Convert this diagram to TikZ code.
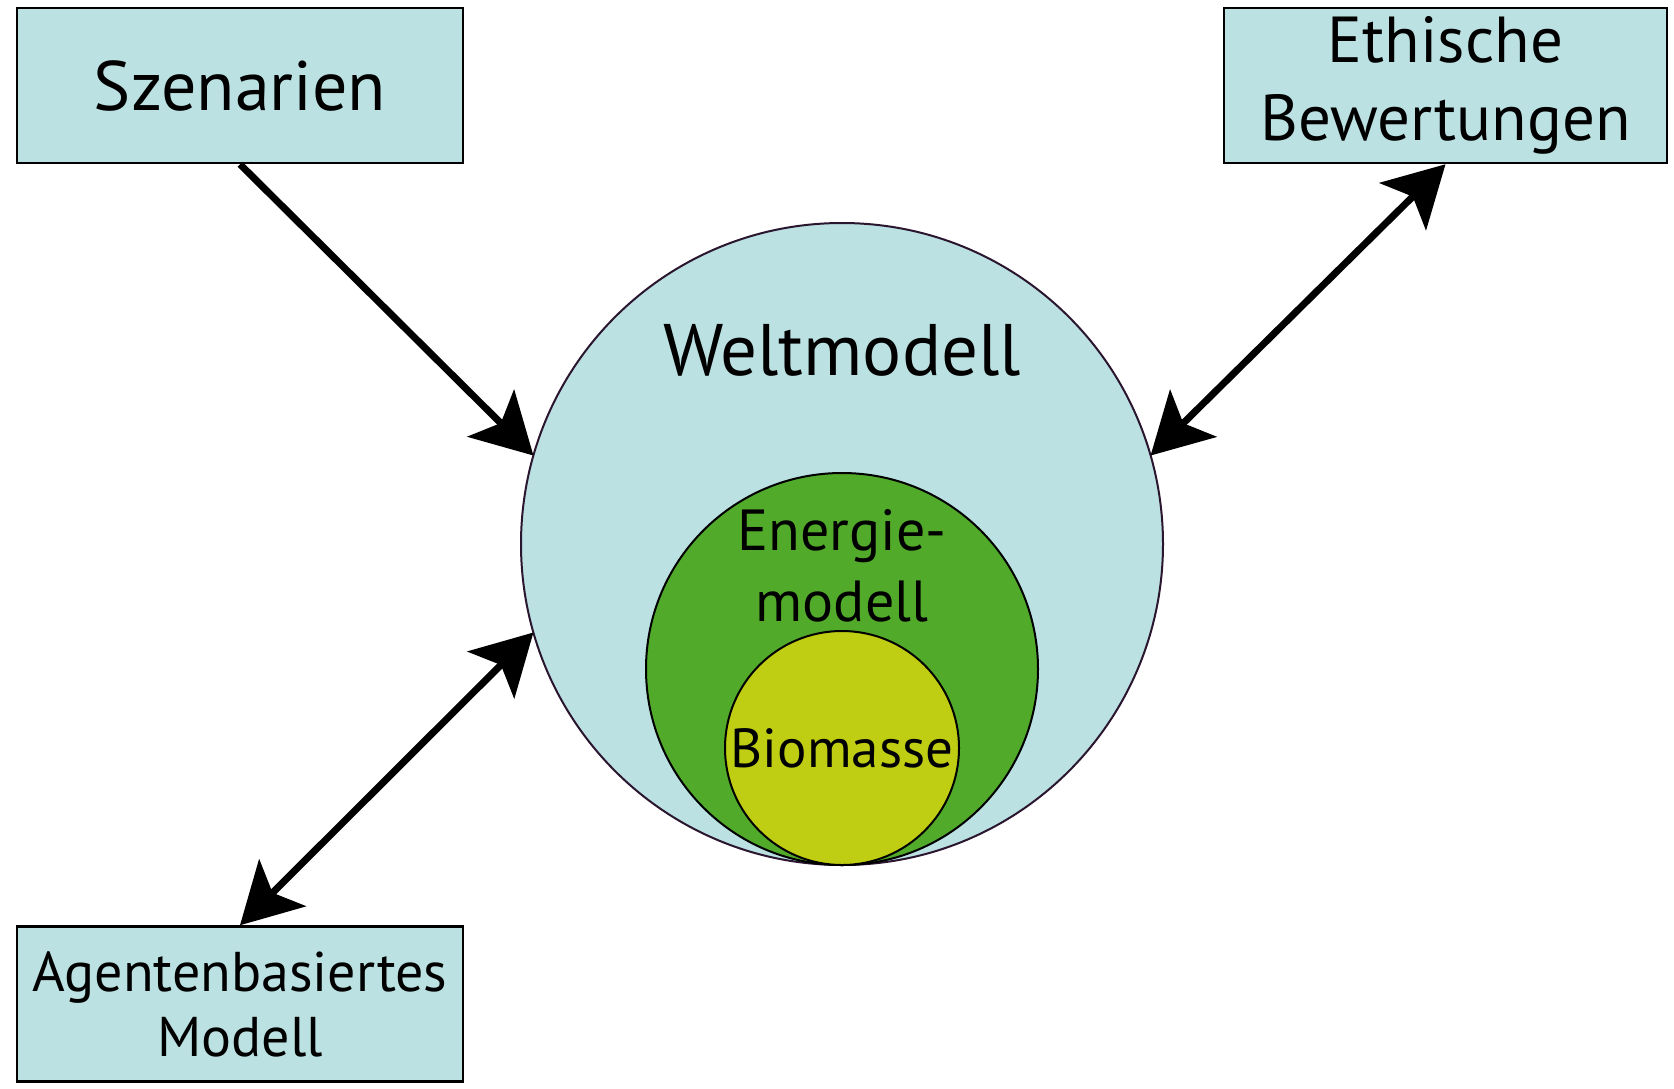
\documentclass[tikz,border=0pt]{standalone}
\usepackage{fontspec}
\setmainfont{PT Sans}
\usetikzlibrary{arrows.meta,positioning}
\definecolor{boxblue}{HTML}{BBE1E2}
\definecolor{energiegreen}{HTML}{52AA2A}
\definecolor{biogelb}{HTML}{BFCE12}
\definecolor{rimviolet}{HTML}{2B1630}

\begin{document}
\begin{tikzpicture}[
  x=1pt, y=-1pt,
  >={Stealth[length=60pt, width=66pt, inset=14pt]},
  box/.style={rectangle, draw=black, line width=2.5pt, fill=boxblue, minimum width=446pt, minimum height=155pt, align=center, inner sep=0pt},
  sphere/.style={circle, draw=rimviolet, line width=2pt, inner sep=0pt, outer sep=0pt, align=center},
  weltc/.style={sphere, fill=boxblue, minimum size=642pt},
  energiec/.style={sphere, draw=black, fill=energiegreen, minimum size=392pt},
  bioc/.style={sphere, draw=black, fill=biogelb, minimum size=234pt, font=\fontsize{55}{60}\selectfont},
  txtbig/.style={font=\fontsize{72}{78}\selectfont, align=center},
  txtbox/.style={font=\fontsize{65}{78}\selectfont},
  txtagent/.style={font=\fontsize{56}{65}\selectfont},
  txtenergie/.style={font=\fontsize{58}{71}\selectfont, align=center},
  arrow/.style={->, line width=7pt, draw=black},
  twoway/.style={<->, line width=7pt, draw=black}
]
\useasboundingbox (0,0) rectangle (1674,1088);
% modelle
\node[weltc] (welt) at (842,544) {};
\node[energiec, anchor=south] (energie) at (welt.south) {};
\node[bioc, anchor=south] (bio) at (welt.south) {Biomasse};
\node[txtbig, font=\fontsize{73}{78}\selectfont] (weltlbl) at (842,350) {Weltmodell};
\node[txtenergie] (energielbl) at (842,566) {Energie-\\modell};
% kaesten
\node[box, txtbig, font=\fontsize{70}{78}\selectfont] (szen) at (240,85.5) {Szenarien};
\node[box, txtbox, minimum width=443pt] (ethik) at (1445.5,85.5) {Ethische\\Bewertungen};
\node[box, txtagent] (agent) at (240,1004) {Agentenbasiertes\\Modell};
% pfeile
\draw[arrow] (szen.south) -- (welt.164);
\draw[twoway] (welt.16) -- (ethik.south);
\draw[twoway] (welt.196) -- (agent.north);
\end{tikzpicture}
\end{document}
